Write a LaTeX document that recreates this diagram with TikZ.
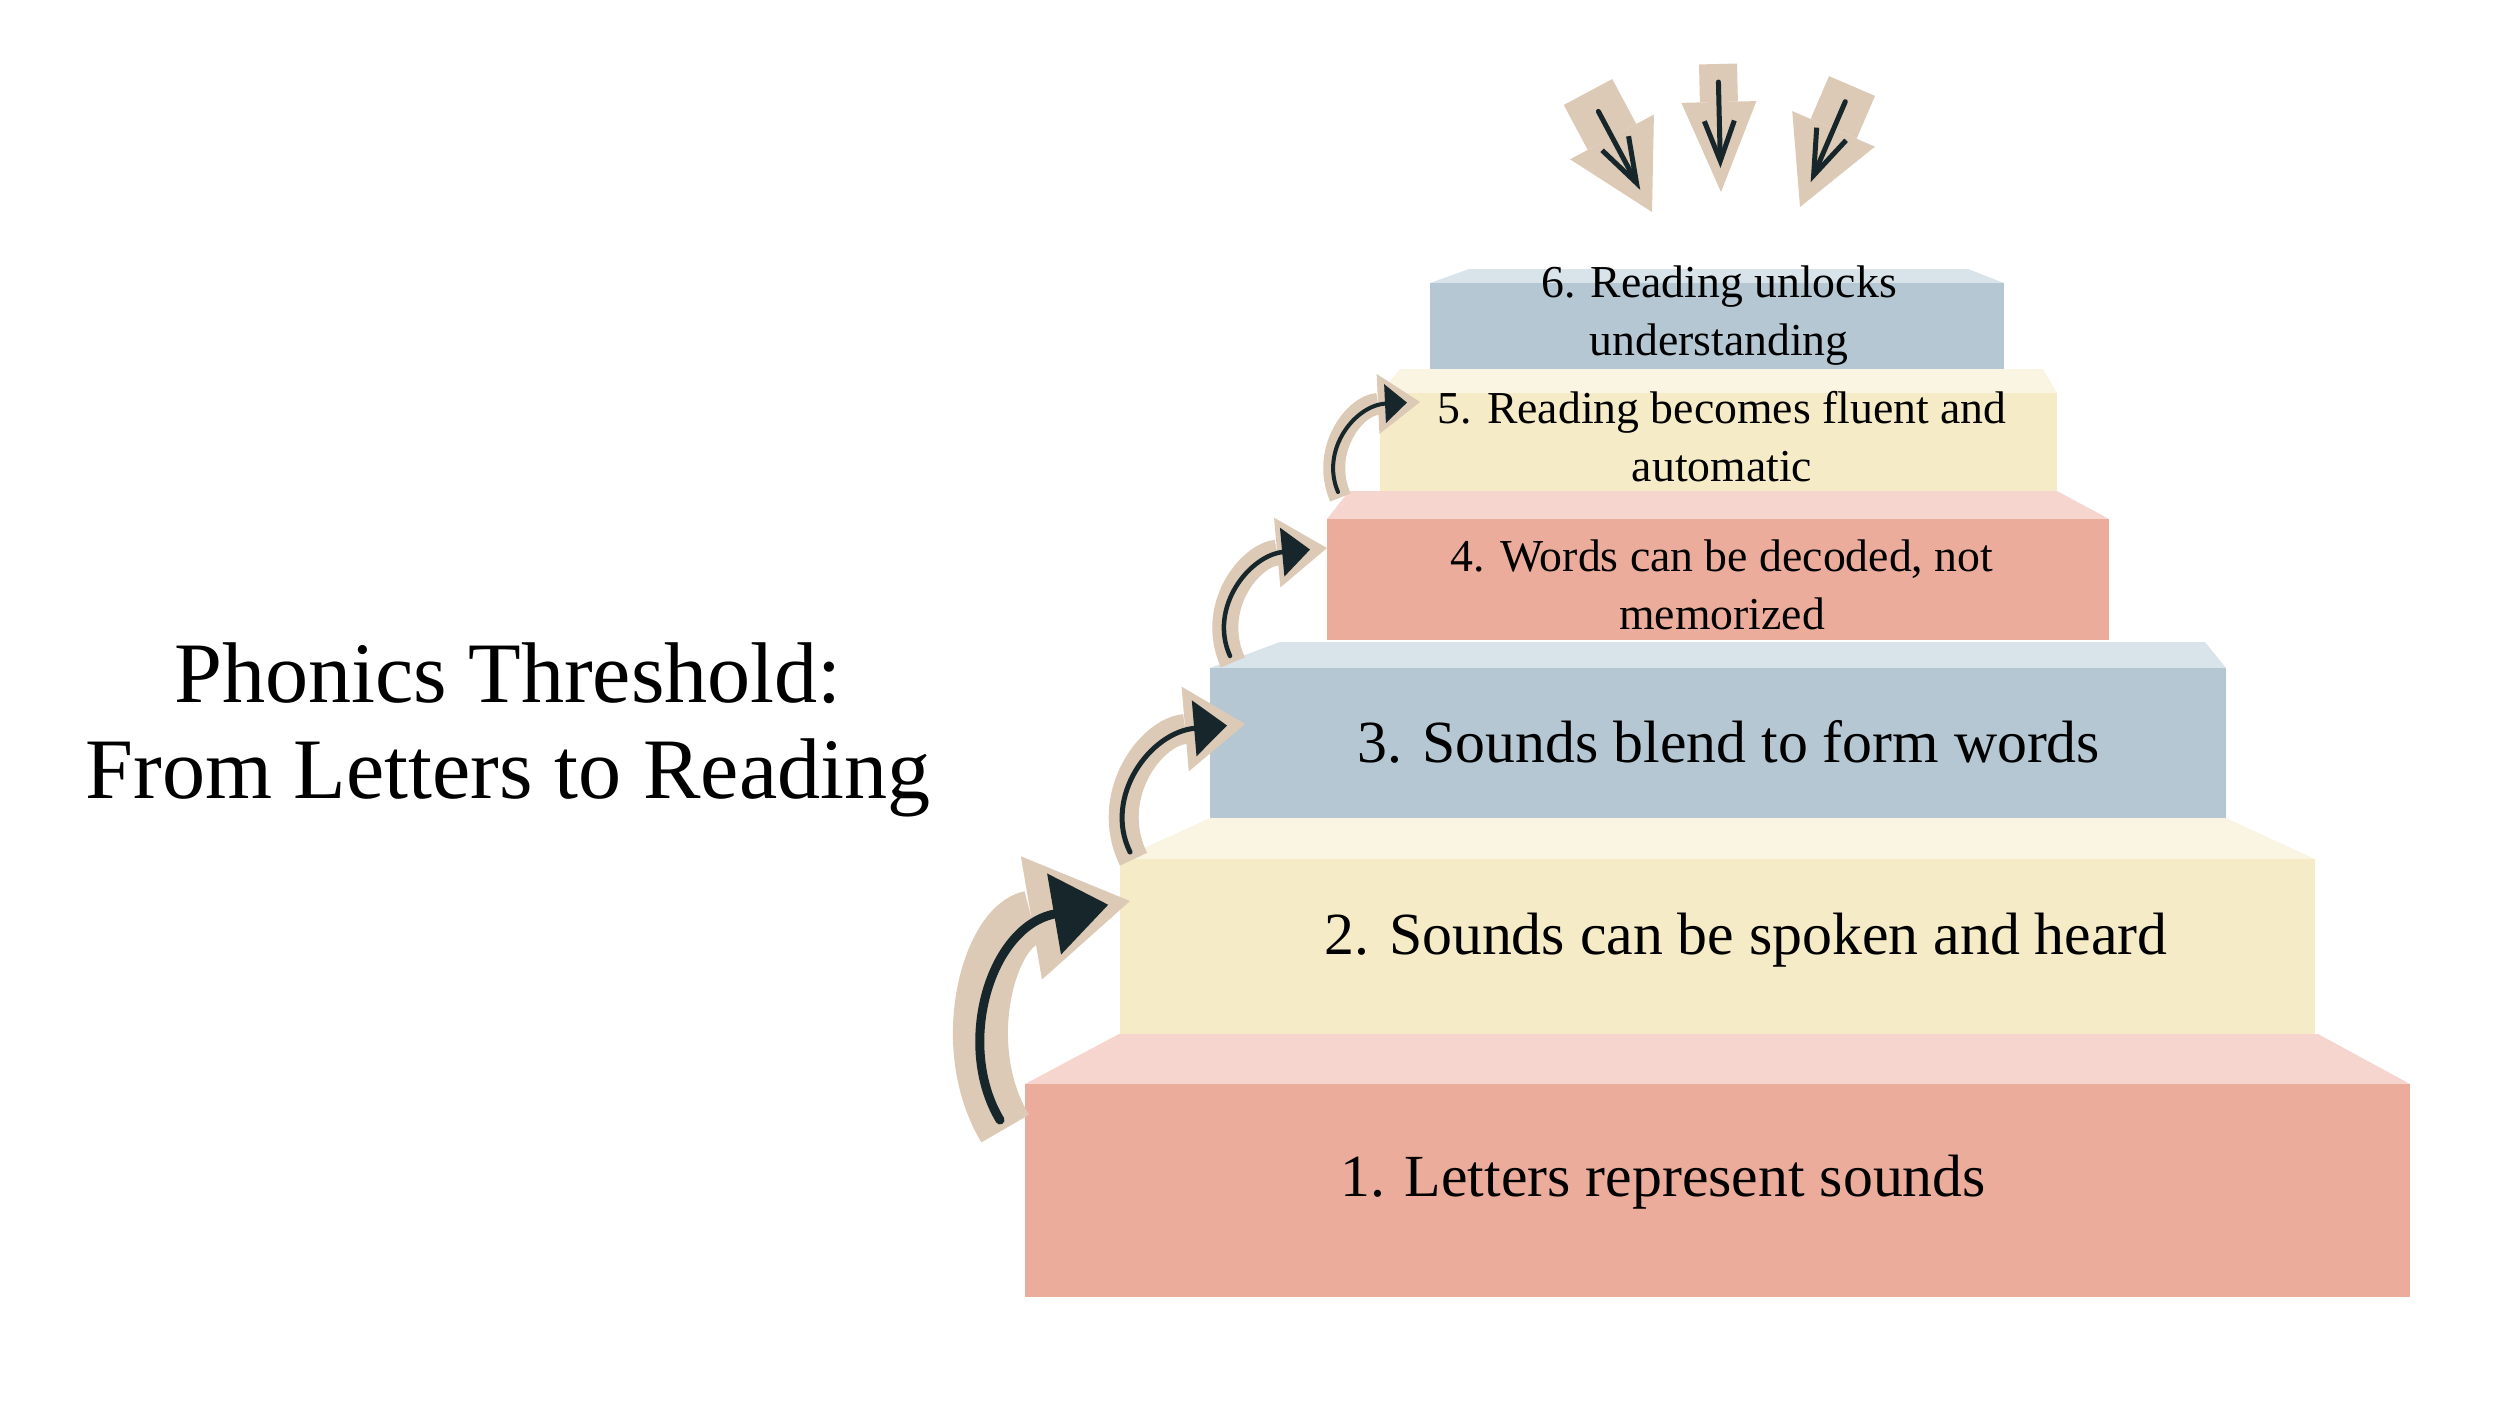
\documentclass[tikz,border=0pt]{standalone}
\usepackage{fontspec}
\setmainfont{Liberation Serif}
\usetikzlibrary{arrows.meta}
\definecolor{salmon}{HTML}{EBAC9C}
\definecolor{salmontop}{HTML}{F6D5CF}
\definecolor{cream}{HTML}{F5EBC6}
\definecolor{creamtop}{HTML}{FAF4E2}
\definecolor{steel}{HTML}{B4C7D3}
\definecolor{steeltop}{HTML}{D9E3EA}
\definecolor{paper}{HTML}{DCCAB6}
\definecolor{ink}{HTML}{16262A}
\tikzset{
  steptext/.style={font=\fontsize{17}{20}\selectfont, align=center, inner sep=0pt},
  smalltext/.style={font=\fontsize{13}{16.5}\selectfont, align=center, inner sep=0pt},
  backing/.style={draw=paper, line cap=butt},
  scribble/.style={draw=ink, line cap=round},
}
\begin{document}
\begin{tikzpicture}[x=0.01cm,y=-0.01cm]
        \useasboundingbox (0,0) rectangle (2500,1406);
        % steps, bottom to top
        \foreach \xl/\xr/\yf/\yb/\yt/\xtl/\xtr/\fc/\tc in {
            1025/2410/1084/1297/1034/1119/2318/salmon/salmontop,
            1120/2315/859/1034/818/1210/2226/cream/creamtop,
            1210/2226/668/818/642/1280/2205/steel/steeltop,
            1327/2109/519/640/491/1349/2057/salmon/salmontop,
            1380/2057/393/491/369/1400/2043/cream/creamtop,
            1430/2004/283/369/269/1469/1968/steel/steeltop}{
          \fill[\tc] (\xl,\yf) -- (\xtl,\yt) -- (\xtr,\yt) -- (\xr,\yf) -- cycle;
          \fill[\fc] (\xl,\yf) rectangle (\xr,\yb);
        }
        \node[steptext] (s1) at (1663,1182) {1. Letters represent sounds};
        \node[steptext] (s2) at (1746,940) {2. Sounds can be spoken and heard};
        \node[steptext] (s3) at (1729,742) {3. Sounds blend to form words};
        \node[smalltext] (s4) at (1722,585) {4. Words can be decoded, not\\memorized};
        \node[smalltext] (s5) at (1722,437) {5. Reading becomes fluent and\\automatic};
        \node[smalltext] (s6) at (1719,316) {6. Reading unlocks\\understanding};
        \node[font=\fontsize{24.5}{27.3}\selectfont, align=center] (title) at (508,730)
          {Phonics Threshold:\\From Letters to Reading};
        % climbing arrows
        \coordinate (c1a) at (1000,1120);
        \coordinate (c1b) at (1130,901);
        \coordinate (c2a) at (1130,852);
        \coordinate (c2b) at (1245,724);
        \coordinate (c3a) at (1230,656);
        \coordinate (c3b) at (1327,548);
        \coordinate (c4a) at (1338,492);
        \coordinate (c4b) at (1420,402);
        \draw[backing, line width=0.55cm, shorten <=-0.1cm, -{Triangle[length=1cm,width=1.25cm,line width=0pt]}]
          (c1a) .. controls +(-45,-75) and +(-140,24) .. (c1b);
        \draw[scribble, line width=0.09cm, shorten >=0.22cm, -{Triangle[length=0.55cm,width=0.8cm]}]
          (c1a) .. controls +(-45,-75) and +(-140,24) .. (c1b);
        \draw[backing, line width=0.3cm, shorten <=-0.08cm, -{Triangle[length=0.6cm,width=0.85cm,line width=0pt]}]
          (c2a) .. controls +(-27,-55) and +(-95,8) .. (c2b);
        \draw[scribble, line width=0.05cm, shorten >=0.18cm, -{Triangle[length=0.33cm,width=0.55cm]}]
          (c2a) .. controls +(-27,-55) and +(-95,8) .. (c2b);
        \draw[backing, line width=0.26cm, shorten <=-0.07cm, -{Triangle[length=0.5cm,width=0.7cm,line width=0pt]}]
          (c3a) .. controls +(-22,-49) and +(-77,7) .. (c3b);
        \draw[scribble, line width=0.045cm, shorten >=0.17cm, -{Triangle[length=0.28cm,width=0.48cm]}]
          (c3a) .. controls +(-22,-49) and +(-77,7) .. (c3b);
        \draw[backing, line width=0.22cm, shorten <=-0.06cm, -{Triangle[length=0.42cm,width=0.6cm,line width=0pt]}]
          (c4a) .. controls +(-18,-42) and +(-65,3) .. (c4b);
        \draw[scribble, line width=0.04cm, shorten >=0.13cm, -{Triangle[length=0.22cm,width=0.38cm]}]
          (c4a) .. controls +(-18,-42) and +(-65,3) .. (c4b);
        % arrows pointing down at the top step
        \coordinate (dl0) at (1588,92);
        \coordinate (dl1) at (1652,212);
        \coordinate (dm0) at (1718,64);
        \coordinate (dm1) at (1721,192);
        \coordinate (dr0) at (1852,86);
        \coordinate (dr1) at (1800,207);
        \draw[backing, line width=0.55cm, -{Triangle[length=0.85cm,width=0.95cm,line width=0pt]}] (dl0) -- (dl1);
        \draw[scribble, line width=0.05cm, shorten <=0.22cm, shorten >=0.25cm,
          -{Straight Barb[length=0.45cm,width=0.3cm]}] (dl0) -- (dl1);
        \draw[backing, line width=0.38cm, -{Triangle[length=0.9cm,width=0.75cm,line width=0pt]}] (dm0) -- (dm1);
        \draw[scribble, line width=0.05cm, shorten <=0.18cm, shorten >=0.24cm,
          -{Straight Barb[length=0.4cm,width=0.3cm]}] (dm0) -- (dm1);
        \draw[backing, line width=0.5cm, -{Triangle[length=0.85cm,width=0.9cm,line width=0pt]}] (dr0) -- (dr1);
        \draw[scribble, line width=0.05cm, shorten <=0.17cm, shorten >=0.27cm,
          -{Straight Barb[length=0.45cm,width=0.32cm]}] (dr0) -- (dr1);
      \end{tikzpicture}
\end{document}
